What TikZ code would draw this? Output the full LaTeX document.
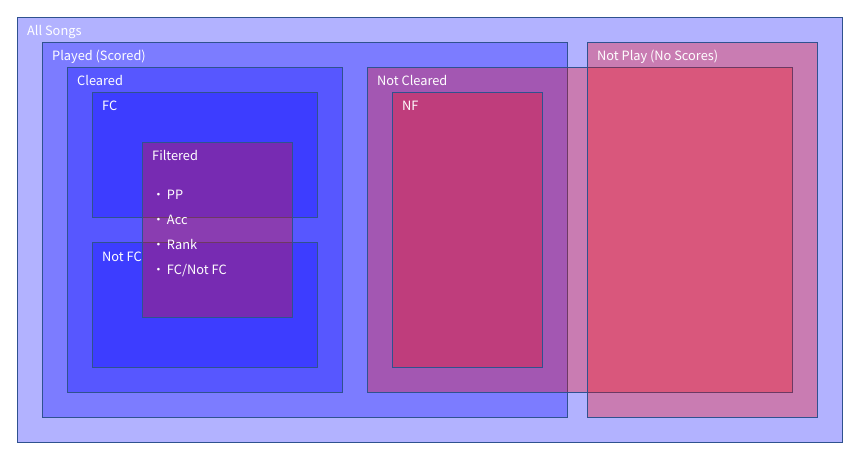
\documentclass[tikz,border=0pt]{standalone}
\usepackage{fontspec}
\setmainfont{Noto Sans CJK JP}
\definecolor{edge}{HTML}{2F528F}
\tikzset{
  setbox/.style={draw=edge,line width=0.9pt,inner sep=0pt,outer sep=0pt,anchor=north west},
  blueset/.style={setbox,fill=blue,fill opacity=0.3},
  redset/.style={setbox,fill=red,fill opacity=0.3},
  setlabel/.style={text=white,font=\fontsize{12.8}{15}\selectfont,inner sep=0pt,anchor=base west},
}
\begin{document}
\begin{tikzpicture}[x=1pt,y=-1pt]
  \useasboundingbox (0,0) rectangle (861,462);
  % blue sets
  \node[blueset,minimum width=825pt,minimum height=425pt] (all) at (17,17) {};
  \node[blueset,minimum width=525pt,minimum height=375pt] (played) at (42,42) {};
  \node[blueset,minimum width=275pt,minimum height=325pt] (cleared) at (67,67) {};
  \node[blueset,minimum width=225pt,minimum height=125pt] (fc) at (92,92) {};
  \node[blueset,minimum width=225pt,minimum height=125pt] (notfc) at (92,242) {};
  % red sets
  \node[redset,minimum width=150pt,minimum height=175pt] (filtered) at (142,142) {};
  \node[redset,minimum width=425pt,minimum height=325pt] (notcleared) at (367,67) {};
  \node[redset,minimum width=150pt,minimum height=275pt] (nf) at (392,92) {};
  \node[redset,minimum width=230pt,minimum height=375pt] (notplay) at (587,42) {};
  % labels
  \node[setlabel] (allL) at ([xshift=10pt,yshift=-19pt]all.north west) {All Songs};
  \node[setlabel] (playedL) at ([xshift=10pt,yshift=-19pt]played.north west) {Played (Scored)};
  \node[setlabel] (clearedL) at ([xshift=10pt,yshift=-19pt]cleared.north west) {Cleared};
  \node[setlabel] (fcL) at ([xshift=10pt,yshift=-19pt]fc.north west) {FC};
  \node[setlabel] (notfcL) at ([xshift=10pt,yshift=-19pt]notfc.north west) {Not FC};
  \node[setlabel] (filteredL) at ([xshift=10pt,yshift=-19pt]filtered.north west) {Filtered};
  \node[setlabel] (notclearedL) at ([xshift=10pt,yshift=-19pt]notcleared.north west) {Not Cleared};
  \node[setlabel] (nfL) at ([xshift=10pt,yshift=-19pt]nf.north west) {NF};
  \node[setlabel] (notplayL) at ([xshift=10pt,yshift=-19pt]notplay.north west) {Not Play (No Scores)};
  % filter items
  \foreach \t [count=\i] in {PP,Acc,Rank,{FC/Not FC}}
    \node[setlabel] (item\i) at ([xshift=10pt,yshift=-33.3pt-24.7pt*\i]filtered.north west) {・\kern2pt\t};
\end{tikzpicture}
\end{document}
